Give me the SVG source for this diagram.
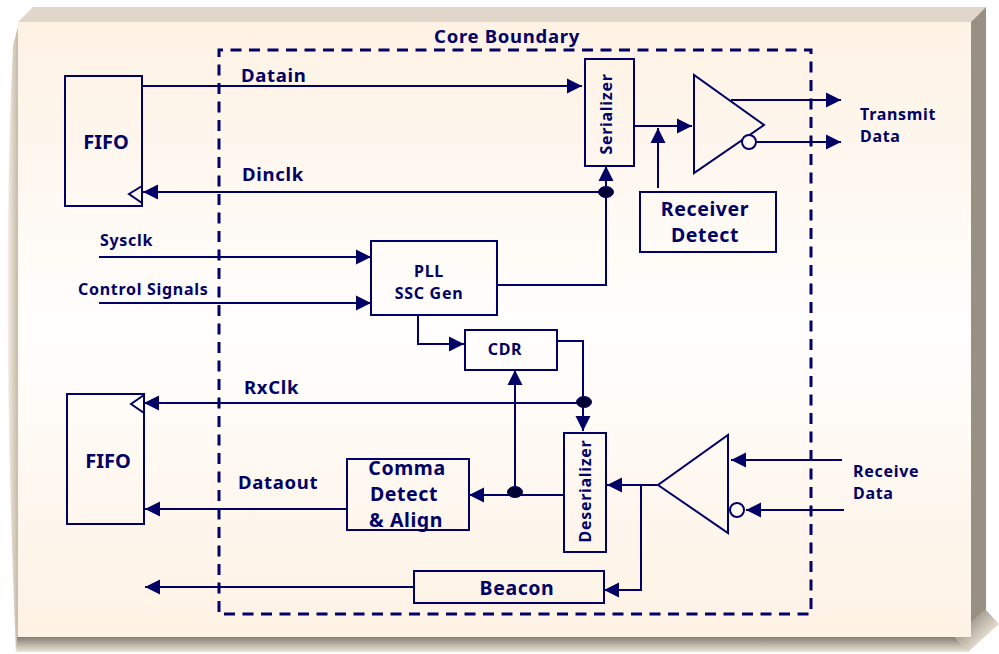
<svg xmlns="http://www.w3.org/2000/svg" width="999" height="654" viewBox="0 0 999 654">
<defs>
<linearGradient id="face" x1="0" y1="0" x2="0" y2="1"><stop offset="0" stop-color="#fef2e4"/><stop offset="0.5" stop-color="#fffefd"/><stop offset="1" stop-color="#fef2e4"/></linearGradient>
<linearGradient id="bot" x1="0" y1="0" x2="0" y2="1"><stop offset="0" stop-color="#857e73"/><stop offset="1" stop-color="#efe6d9"/></linearGradient>
<linearGradient id="left" x1="0" y1="0" x2="1" y2="0"><stop offset="0" stop-color="#f4eee4"/><stop offset="1" stop-color="#c6baa9"/></linearGradient>
<linearGradient id="corner" x1="0" y1="0" x2="1" y2="1"><stop offset="0.2" stop-color="#8f887c"/><stop offset="0.8" stop-color="#fbf2e4"/></linearGradient>
<marker id="a" markerUnits="userSpaceOnUse" markerWidth="16" markerHeight="16" refX="15" refY="8" orient="auto"><path d="M0 0.500L15 8L0 15.500Z" fill="#000066"/></marker>
</defs>
<style>
.l{fill:none;stroke:#000066;stroke-width:2}
.b{fill:none;stroke:#000066;stroke-width:2}
.a{marker-end:url(#a)}
.d{fill:none;stroke:#000066;stroke-width:3;stroke-dasharray:11 7.500}
text{font-family:"Noto Sans","Liberation Sans",sans-serif;font-weight:700;fill:#000066;}
.s{font-size:18.500px;letter-spacing:.7px}.m{font-size:19.500px;letter-spacing:.6px}.x{font-size:16px;letter-spacing:.7px}.f{font-size:20px}
.c{text-anchor:middle}
.j{fill:#000033;stroke:#000066}
</style>
<g id="frame">
<path d="M18 22L33 7H986L971 22Z" fill="#e0d6c9"/>
<path d="M18 27L13 45Q1 300 16 654L18 637Z" fill="url(#left)"/>
<path d="M971 22L986 7V610L971 625Z" fill="#989083"/>
<path d="M17 637H955L968 652H17Z" fill="url(#bot)"/>
<path d="M955 637L971 622L985 609L999 624L968 652Z" fill="url(#corner)"/>
<rect x="18" y="22" width="953" height="615" fill="url(#face)"/>
</g>
<g id="boundary"><path class="d" d="M219 612V50H811V614H219"/><text class="s c" x="507" y="43">Core Boundary</text></g>
<g id="connectors">
<path class="l a" d="M142 86H582"/>
<path class="l a" d="M606 192H143"/>
<path class="l a" d="M497 285H606V166"/>
<path class="l a" d="M634 126H692"/>
<path class="l a" d="M658 188V128"/>
<path class="l a" d="M731 100H841"/>
<path class="l a" d="M757 142H841"/>
<path class="l a" d="M99 257H371"/>
<path class="l a" d="M99 303H371"/>
<path class="l a" d="M418 315V344H464"/>
<path class="l a" d="M557 341H583V431"/>
<path class="l a" d="M584 403H144"/>
<path class="l a" d="M515 495V370"/>
<path class="l a" d="M564 495H469"/>
<path class="l a" d="M347 509H145"/>
<path class="l a" d="M657 485H607"/>
<path class="l a" d="M641 485V590H604"/>
<path class="l a" d="M414 587H145"/>
<path class="l a" d="M842 460H731"/>
<path class="l a" d="M844 510H746"/>
<ellipse class="j" cx="606" cy="192" rx="7.500" ry="5.500"/>
<ellipse class="j" cx="584" cy="402" rx="7.500" ry="5.500"/>
<ellipse class="j" cx="515" cy="492" rx="7.500" ry="5.500"/>
</g>
<g id="fifo1"><rect class="b" x="65" y="76" width="77" height="130"/><path class="b" d="M142 186L129 194L142 203"/><text class="f c" x="106" y="149">FIFO</text></g>
<g id="fifo2"><rect class="b" x="67" y="394" width="77" height="130"/><path class="b" d="M144 395L131 404L144 413"/><text class="f c" x="108" y="468">FIFO</text></g>
<g id="serializer"><rect class="b" x="585" y="59" width="49" height="107"/><text class="x c" transform="translate(612 114) rotate(-90)">Serializer</text></g>
<g id="driver"><path class="b" d="M694 75V173L764 125Z"/><circle cx="749" cy="142" r="7" fill="#fffaf4" stroke="#000066" stroke-width="2"/></g>
<g id="receiver-detect"><rect class="b" x="640" y="192" width="136" height="60"/><text class="m c" x="705" y="216">Receiver</text><text class="m c" x="705" y="242">Detect</text></g>
<g id="pll"><rect class="b" x="371" y="241" width="126" height="74"/><text class="x c" x="429" y="277">PLL</text><text class="x c" x="429" y="299">SSC Gen</text></g>
<g id="cdr"><rect class="b" x="465" y="330" width="92" height="40"/><text class="x c" x="505" y="355">CDR</text></g>
<g id="comma"><rect class="b" x="347" y="459" width="122" height="71"/><text class="m c" x="407" y="475">Comma</text><text class="m c" x="404" y="501">Detect</text><text class="m c" x="406" y="527">&amp; Align</text></g>
<g id="deserializer"><rect class="b" x="564" y="433" width="42" height="119"/><text class="x c" transform="translate(591 491) rotate(-90)">Deserializer</text></g>
<g id="rx-buffer"><path class="b" d="M728 435V533L658 485Z"/><circle cx="737" cy="510" r="7" fill="#fffaf4" stroke="#000066" stroke-width="2"/></g>
<g id="beacon"><rect class="b" x="414" y="571" width="190" height="32"/><text class="m c" x="517" y="595">Beacon</text></g>
<g id="labels">
<text class="s" x="241" y="82">Datain</text>
<text class="s" x="242" y="181">Dinclk</text>
<text class="x" x="100" y="246">Sysclk</text>
<text class="x" x="78" y="295">Control Signals</text>
<text class="s" x="244" y="394">RxClk</text>
<text class="s" x="238" y="489">Dataout</text>
<text class="x" x="860" y="120">Transmit</text>
<text class="x" x="860" y="142">Data</text>
<text class="x" x="853" y="477">Receive</text>
<text class="x" x="853" y="499">Data</text>
</g>
</svg>
